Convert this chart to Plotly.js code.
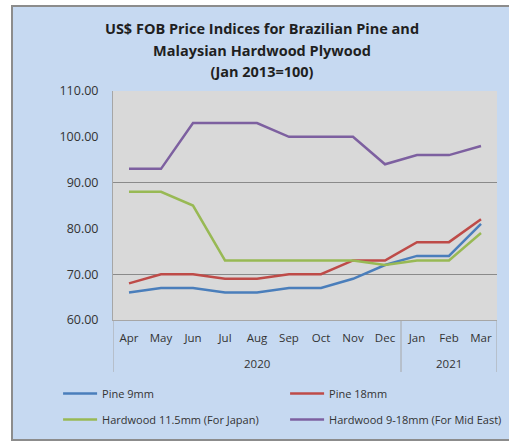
<!DOCTYPE html>
<html>
<head>
<meta charset="utf-8">
<script src="https://cdn.plot.ly/plotly-3.0.1.min.js"></script>
<style>
  html, body { margin: 0; padding: 0; background: #ffffff; width: 509px; height: 441px; overflow: hidden; }
  #frame { position: absolute; left: 11px; top: 5px; width: 500px; height: 432px;
           border-top: 2px solid #8c8c8c; border-left: 2px solid #8c8c8c; border-bottom: 2px solid #8c8c8c;
           background: #c6d9f1; }
  #chart { width: 498px; height: 432px; }
</style>
</head>
<body>
<div id="frame"><div id="chart"></div></div>
<script>
const months = ['Apr','May','Jun','Jul','Aug','Sep','Oct','Nov','Dec','Jan','Feb','Mar'];
const years  = ['2020','2020','2020','2020','2020','2020','2020','2020','2020','2021','2021','2021'];

const pine9mm       = [66, 67, 67, 66, 66, 67, 67, 69, 72, 74, 74, 81];
const pine18mm      = [68, 70, 70, 69, 69, 70, 70, 73, 73, 77, 77, 82];
const hardwoodJapan = [88, 88, 85, 73, 73, 73, 73, 73, 72, 73, 73, 79];
const hardwoodMidEast = [93, 93, 103, 103, 103, 100, 100, 100, 94, 96, 96, 98];

const seriesNames  = ['Pine 9mm', 'Pine 18mm', 'Hardwood 11.5mm (For Japan)', 'Hardwood 9-18mm (For Mid East)'];
const seriesColors = ['#4a7ebb', '#be4b48', '#98b954', '#7d60a0'];
const seriesValues = [pine9mm, pine18mm, hardwoodJapan, hardwoodMidEast];
const seriesLegend = ['legend', 'legend', 'legend2', 'legend2'];

const yTicks = [60, 70, 80, 90, 100, 110];
const gridTicks = [70, 90, 110];

const traces = seriesValues.map((vals, i) => ({
  type: 'scatter', mode: 'lines',
  x: months, y: vals,
  name: seriesNames[i],
  legend: seriesLegend[i],
  line: { color: seriesColors[i], width: 2.5 }
}));
// invisible trace to carry the gridline axis
traces.push({ type: 'scatter', mode: 'lines', x: months, y: pine9mm, yaxis: 'y2',
  showlegend: false, hoverinfo: 'skip', line: { width: 0, color: 'rgba(0,0,0,0)' } });

// year groups derived from the years array
const groups = [];
years.forEach((yr, i) => {
  if (!groups.length || groups[groups.length - 1].year !== yr) groups.push({ year: yr, start: i, end: i });
  else groups[groups.length - 1].end = i;
});
const font = 'Open Sans, sans-serif';
const yearAnnotations = groups.map(g => ({
  text: g.year, xref: 'x', x: (g.start + g.end) / 2, yref: 'paper', y: -0.192,
  yanchor: 'middle', xanchor: 'center', showarrow: false,
  font: { family: font, size: 11.5, color: '#333333' }
}));
const boundaries = [-0.5].concat(groups.map(g => g.end + 0.5));
const dividerShapes = boundaries.map(b => ({
  type: 'line', xref: 'x', yref: 'paper', x0: b, x1: b, y0: 0, y1: -0.227,
  line: { color: '#a6a6a6', width: 1 }
}));

const legendBase = {
  orientation: 'h', xref: 'paper', yref: 'paper',
  x: -0.143, xanchor: 'left', yanchor: 'bottom',
  entrywidth: 178, entrywidthmode: 'pixels', itemwidth: 34,
  bgcolor: 'rgba(0,0,0,0)',
  font: { family: font, size: 11, color: '#333333' }
};
const layout = {
  width: 498, height: 432,
  margin: { l: 100, r: 14, t: 84, b: 119, autoexpand: false },
  paper_bgcolor: '#c6d9f1',
  plot_bgcolor: '#d9d9d9',
  font: { family: font, color: '#333333', size: 11 },
  title: {
    text: '<span style="font-size:14.5px">US$ FOB Price Indices for Brazilian Pine and</span><br>' +
          '<span style="font-size:14.5px">Malaysian Hardwood Plywood</span><br>' +
          '<span style="font-size:14.5px">(Jan 2013=100)</span>',
    font: { family: font, size: 16.5, color: '#1f1f1f', weight: 'bold' },
    x: 0.5, xref: 'container', xanchor: 'center',
    y: 0.937, yref: 'container', yanchor: 'top'
  },
  xaxis: {
    type: 'category', categoryorder: 'array', categoryarray: months, range: [-0.5, 11.5],
    showline: true, linecolor: '#a6a6a6', linewidth: 1,
    showgrid: false, ticks: '', ticklabelstandoff: 7, tickangle: 0,
    tickfont: { family: font, size: 11.5, color: '#333333' }
  },
  yaxis: {
    range: [60, 110], tickvals: yTicks, tickformat: '.2f',
    showgrid: false, showline: true, linecolor: '#a6a6a6', linewidth: 1,
    ticks: 'outside', ticklen: 11, tickcolor: 'rgba(0,0,0,0)',
    zeroline: false,
    tickfont: { family: font, size: 12.5, color: '#333333' }
  },
  yaxis2: {
    overlaying: 'y', range: [60, 110], tickvals: gridTicks,
    showticklabels: false, showgrid: true, gridcolor: '#8a8a8a', gridwidth: 1,
    zeroline: false, showline: false
  },
  annotations: yearAnnotations,
  shapes: dividerShapes,
  showlegend: true,
  legend: Object.assign({}, legendBase, { y: -0.384 }),
  legend2: Object.assign({}, legendBase, { y: -0.498 })
};

Plotly.newPlot('chart', traces, layout, { displayModeBar: false, staticPlot: true });
</script>
</body>
</html>
